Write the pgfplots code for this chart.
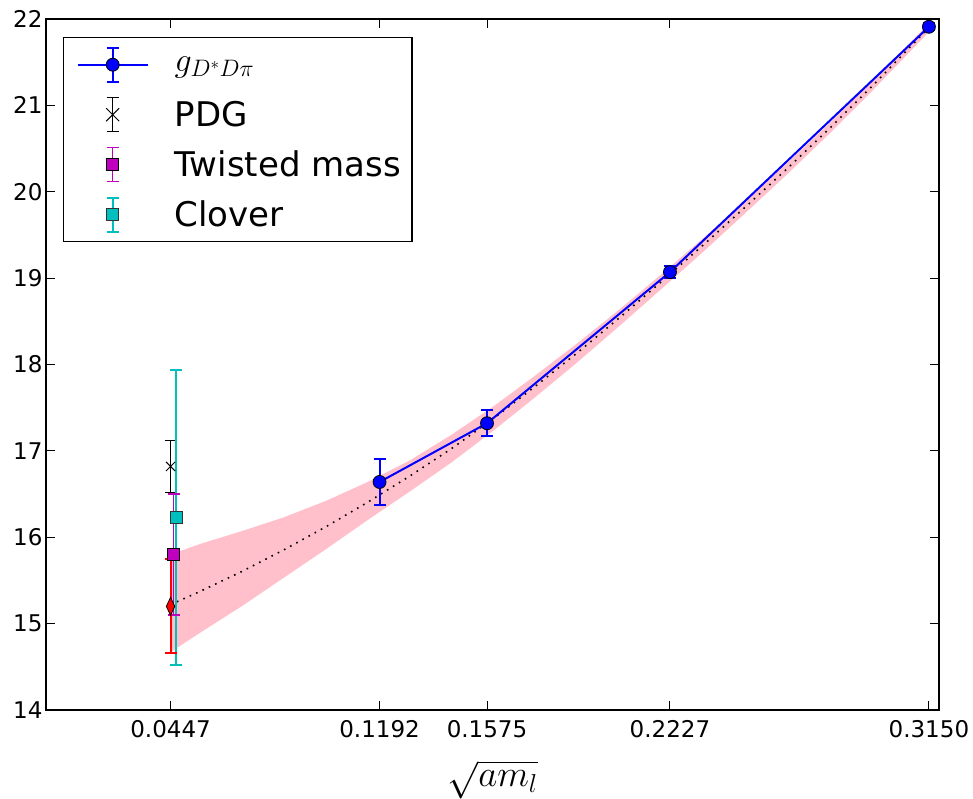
\documentclass[border=0pt]{standalone}
\usepackage{fix-cm}
\usepackage{fontspec}
\setmainfont{DejaVu Sans}
\usepackage{pgfplots}
\pgfplotsset{compat=1.18}
\definecolor{mplblue}{rgb}{0,0,1}
\definecolor{mplm}{rgb}{0.75,0,0.75}
\definecolor{mplc}{rgb}{0,0.75,0.75}
\definecolor{mplpink}{HTML}{FFC0CB}
\begin{document}
\begin{tikzpicture}
\begin{axis}[
  width=893pt, height=691pt, scale only axis,
  xmin=0.0003, xmax=0.3186, ymin=14, ymax=22,
  xtick={0.0447,0.1192,0.1575,0.2227,0.3150},
  xticklabels={0.0447,0.1192,0.1575,0.2227,0.3150},
  ytick={14,15,16,17,18,19,20,21,22},
  /pgf/number format/assume math mode=true,
  tick label style={font=\fontsize{23}{27}\selectfont},
  xticklabel style={inner sep=1pt, yshift=-9.5pt},
  axis line style={line width=1.5pt},
  every tick/.style={line width=1pt, black},
  major tick length=9pt,
  tick align=inside,
  xlabel={$\sqrt{am_l}$},
  xlabel style={font=\fontsize{37}{41}\selectfont, inner sep=0pt, yshift=-21pt},
  legend style={at={(0.019,0.974)}, anchor=north west, draw=black, line width=1.5pt,
    font=\fontsize{34}{40}\selectfont, row sep=12pt, inner xsep=6pt, inner ysep=8pt,
    nodes={inner ysep=1pt, inner xsep=5pt}},
  legend cell align=left,
  clip=false,
]
% fit band
\addplot[fill=mplpink, draw=none, forget plot] coordinates {
 (0.0447,15.80) (0.055,15.92) (0.07,16.07) (0.085,16.23) (0.10,16.42) (0.115,16.64)
 (0.13,16.89) (0.145,17.19) (0.16,17.52) (0.175,17.88) (0.19,18.254) (0.205,18.645)
 (0.22,19.054) (0.235,19.474) (0.25,19.906) (0.265,20.348) (0.28,20.807) (0.295,21.285)
 (0.315,21.951)
 (0.315,21.851) (0.295,21.175) (0.28,20.687) (0.265,20.218) (0.25,19.766) (0.235,19.318)
 (0.22,18.884) (0.205,18.455) (0.19,18.034) (0.175,17.63) (0.16,17.24) (0.145,16.87)
 (0.13,16.53) (0.115,16.20) (0.10,15.86) (0.085,15.53) (0.07,15.20) (0.055,14.89)
 (0.0447,14.67)} -- cycle;
% fit central line
\addplot[black, line width=1.6pt, dash pattern=on 1.6pt off 5.4pt, forget plot] coordinates {
 (0.0447,15.22) (0.055,15.37) (0.07,15.602) (0.085,15.853) (0.10,16.12) (0.115,16.406)
 (0.13,16.709) (0.145,17.03) (0.16,17.379) (0.175,17.755) (0.19,18.144) (0.205,18.55)
 (0.22,18.969) (0.235,19.396) (0.25,19.836) (0.265,20.283) (0.28,20.747) (0.295,21.23)
 (0.315,21.901)};
% g_{D*D pi}
\addplot[forget plot, mplblue, line width=2pt, mark=*, mark size=6.5pt,
  mark options={fill=mplblue, draw=black, line width=0.8pt},
  error bars/.cd, y dir=both, y explicit,
  error bar style={mplblue, line width=2pt},
  error mark options={rotate=90, mplblue, line width=2pt, mark size=6pt}]
 coordinates {
 (0.1192,16.64) +- (0,0.27)
 (0.1575,17.32) +- (0,0.15)
 (0.2227,19.07) +- (0,0.07)
 (0.3150,21.91) +- (0,0.04)};
% PDG
\addplot[forget plot, black, only marks, mark=x, mark size=6.5pt, mark options={line width=1pt},
  error bars/.cd, y dir=both, y explicit,
  error bar style={black, line width=1.5pt},
  error mark options={rotate=90, black, line width=1.5pt, mark size=6pt}]
 coordinates {(0.0447,16.82) +- (0,0.30)};
% Clover
\addplot[forget plot, mplc, only marks, mark=square*, mark size=6pt,
  mark options={fill=mplc, draw=black!80, line width=0.8pt},
  error bars/.cd, y dir=both, y explicit,
  error bar style={mplc, line width=2pt},
  error mark options={rotate=90, mplc, line width=2pt, mark size=6pt}]
 coordinates {(0.0468,16.23) +- (0,1.71)};
% Twisted mass
\addplot[forget plot, mplm, only marks, mark=square*, mark size=6pt,
  mark options={fill=mplm, draw=black, line width=0.8pt},
  error bars/.cd, y dir=both, y explicit,
  error bar style={mplm, line width=1.5pt},
  error mark options={rotate=90, mplm, line width=1.5pt, mark size=6pt}]
 coordinates {(0.0458,15.80) +- (0,0.70)};
% extrapolated physical point
\addplot[forget plot, red, only marks, mark=diamond*, mark size=9pt,
  mark options={fill=red, draw=black, line width=0.8pt, xscale=0.62},
  error bars/.cd, y dir=both, y explicit,
  error bar style={red, line width=2pt},
  error mark options={rotate=90, red, line width=2pt, mark size=6pt}]
 coordinates {(0.0447,15.20) +- (0,0.545)};
% legend entries
\addlegendimage{legend image code/.code={
  \path[draw=none] (0pt,-19pt) rectangle (100pt,19pt);
  \draw[mplblue, line width=2pt] (8pt,0pt) -- (78pt,0pt);
  \draw[mplblue, line width=2pt] (43pt,-17pt) -- (43pt,17pt) (37pt,-17pt) -- (49pt,-17pt) (37pt,17pt) -- (49pt,17pt);
  \draw[fill=mplblue, draw=black, line width=0.8pt] (43pt,0pt) circle (6.5pt);
}}
\addlegendentry{$g_{D^*D\pi}$}
\addlegendimage{legend image code/.code={
  \path[draw=none] (0pt,-19pt) rectangle (100pt,19pt);
  \draw[black, line width=1.5pt] (43pt,-17pt) -- (43pt,17pt) (37pt,-17pt) -- (49pt,-17pt) (37pt,17pt) -- (49pt,17pt);
  \draw[black, line width=1pt] (36.5pt,-6.5pt) -- (49.5pt,6.5pt) (36.5pt,6.5pt) -- (49.5pt,-6.5pt);
}}
\addlegendentry{PDG}
\addlegendimage{legend image code/.code={
  \path[draw=none] (0pt,-19pt) rectangle (100pt,19pt);
  \draw[mplm, line width=1.5pt] (43pt,-17pt) -- (43pt,17pt) (37pt,-17pt) -- (49pt,-17pt) (37pt,17pt) -- (49pt,17pt);
  \draw[fill=mplm, draw=black, line width=0.8pt] (37pt,-6pt) rectangle (49pt,6pt);
}}
\addlegendentry{Twisted mass}
\addlegendimage{legend image code/.code={
  \path[draw=none] (0pt,-19pt) rectangle (100pt,19pt);
  \draw[mplc, line width=2pt] (43pt,-17pt) -- (43pt,17pt) (37pt,-17pt) -- (49pt,-17pt) (37pt,17pt) -- (49pt,17pt);
  \draw[fill=mplc, draw=black!80, line width=0.8pt] (37pt,-6pt) rectangle (49pt,6pt);
}}
\addlegendentry{Clover}
\end{axis}
\path (current axis.south west) ++(-46pt,-83pt) rectangle ++(973pt,793pt);
\end{tikzpicture}
\end{document}
